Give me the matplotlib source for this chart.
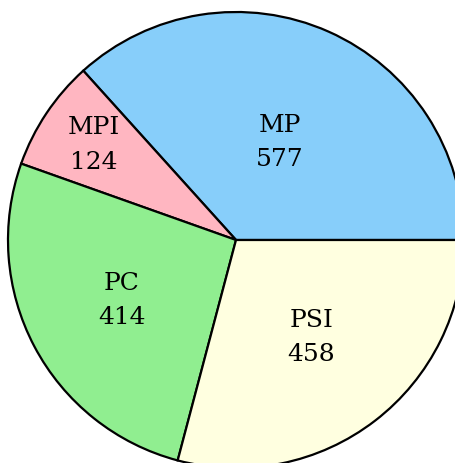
import numpy as np
import matplotlib
matplotlib.use("Agg")
import matplotlib.pyplot as plt

categories = ["MP", "MPI", "PC", "PSI"]
values = [577, 124, 414, 458]
colors = ["#87CEFA", "#FFB6C1", "#90EE90", "#FFFFE0"]
label_radii = [0.47, 0.75, 0.565, 0.54]

fig = plt.figure(figsize=(4.56, 4.63), dpi=100)
ax = fig.add_axes([0, 0, 1, 1])
wedges, _ = ax.pie(values, colors=colors, startangle=0, counterclock=True,
                   radius=1.0, center=(0, 0),
                   wedgeprops=dict(edgecolor="black", linewidth=1.6))
for w, cat, val, r in zip(wedges, categories, values, label_radii):
    mid = np.deg2rad((w.theta1 + w.theta2) / 2)
    ax.text(r * np.cos(mid), r * np.sin(mid), f"{cat}\n{val}",
            ha="center", va="center", fontsize=18, family="DejaVu Serif",
            linespacing=1.62)
ax.set_xlim(-236 / 228, 220 / 228)
ax.set_ylim(-223 / 228, 240 / 228)
ax.set_aspect("equal")
ax.axis("off")
fig.savefig("out.png", dpi=100)
